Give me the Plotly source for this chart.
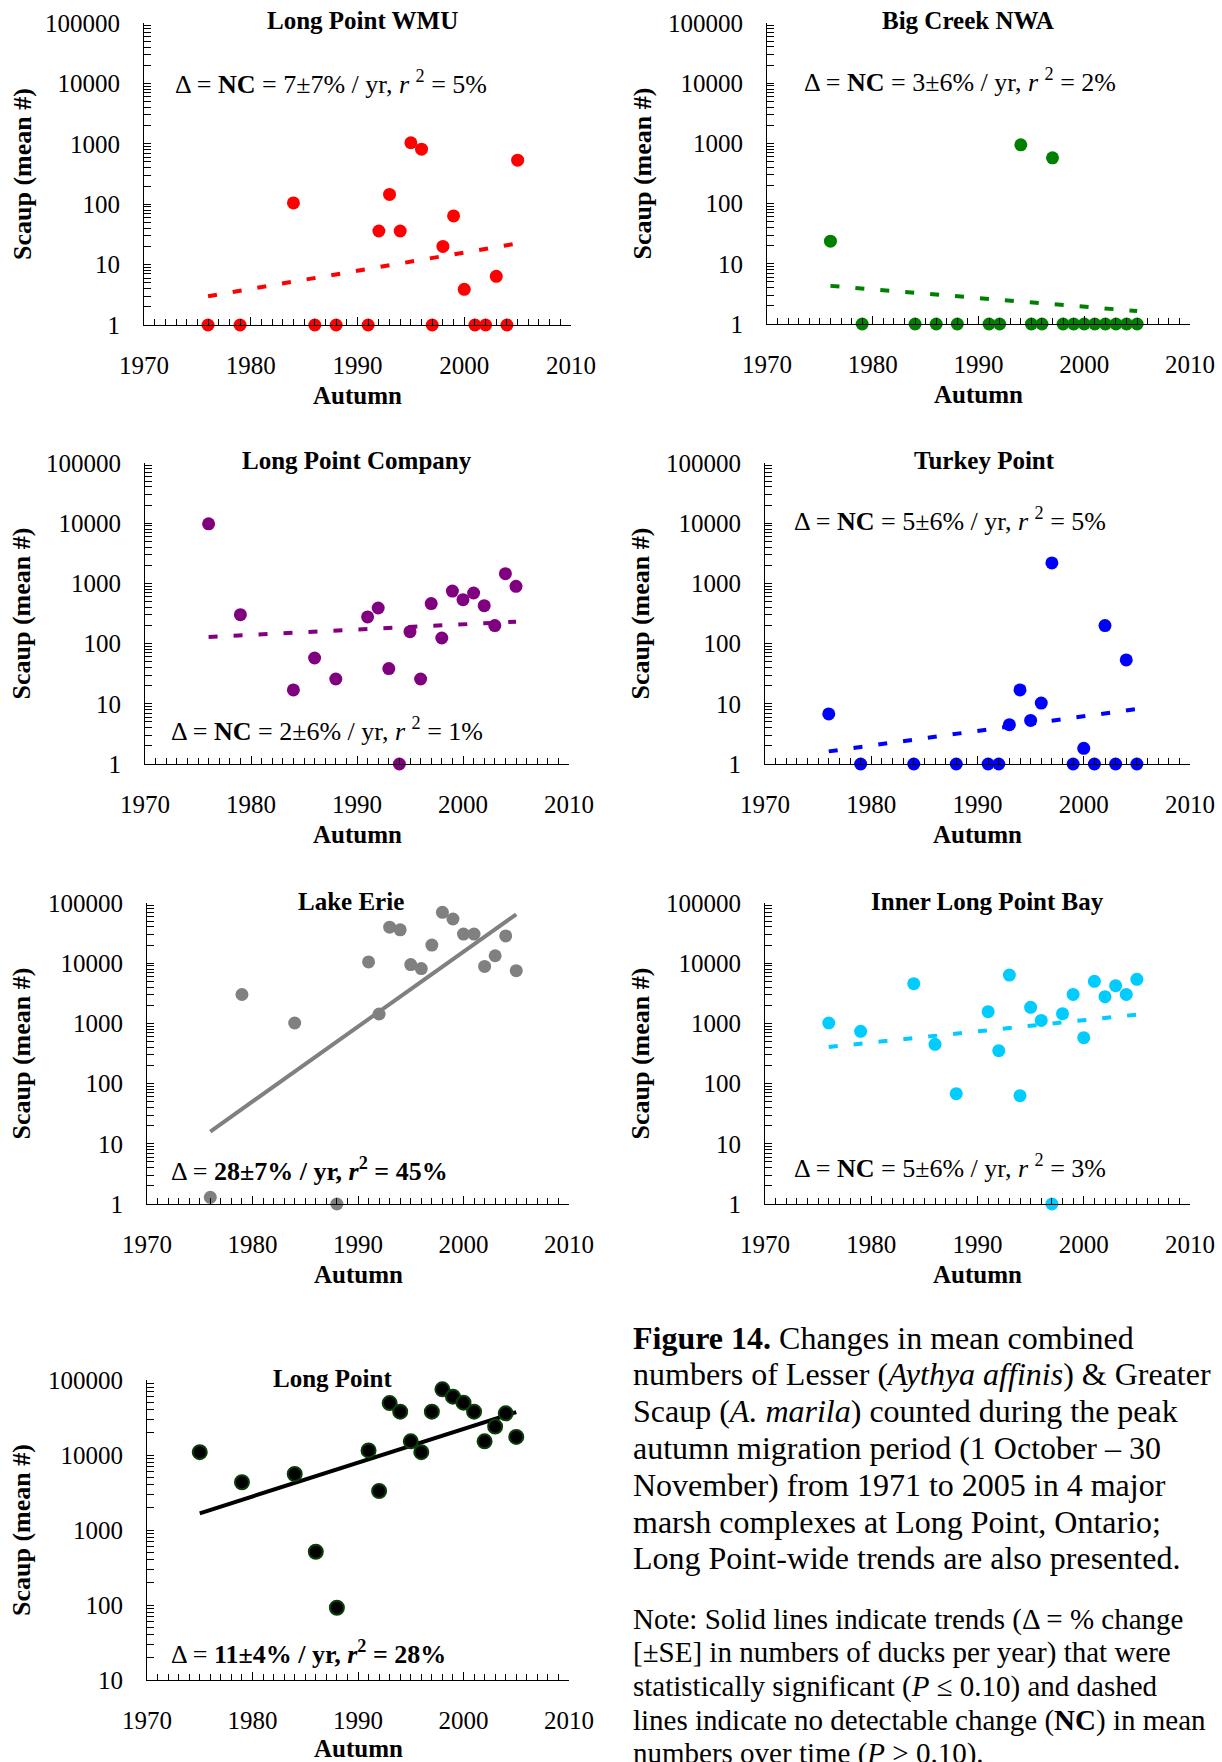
import plotly.graph_objects as go

# ---------------- data ----------------
panel_titles = ["Long Point WMU", "Big Creek NWA", "Long Point Company", "Turkey Point",
                "Lake Erie", "Inner Long Point Bay", "Long Point"]

wmu_years = [1976, 1979, 1984, 1986, 1988, 1991, 1992, 1993, 1994, 1995, 1996, 1997, 1998, 1999, 2000, 2001, 2002, 2003, 2004, 2005]
wmu_values = [1, 1, 105, 1, 1, 1, 36, 145, 36, 1040, 815, 1, 20, 64, 3.9, 1, 1, 6.4, 1, 535]

bigcreek_years = [1976, 1979, 1984, 1986, 1988, 1991, 1992, 1994, 1995, 1996, 1997, 1998, 1999, 2000, 2001, 2002, 2003, 2004, 2005]
bigcreek_values = [23.8, 1, 1, 1, 1, 1, 1, 946, 1, 1, 575, 1, 1, 1, 1, 1, 1, 1, 1]

lpco_years = [1976, 1979, 1984, 1986, 1988, 1991, 1992, 1993, 1994, 1995, 1996, 1997, 1998, 1999, 2000, 2001, 2002, 2003, 2004, 2005]
lpco_values = [9750, 302, 17, 57.6, 25.8, 277, 390, 38.5, 1, 158, 25.8, 462, 124, 745, 536, 693, 427, 199, 1450, 894]

turkey_years = [1976, 1979, 1984, 1988, 1991, 1992, 1993, 1994, 1995, 1996, 1997, 1999, 2000, 2001, 2002, 2003, 2004, 2005]
turkey_values = [6.8, 1, 1, 1, 1, 1, 4.5, 17, 5.3, 10.3, 2190, 1, 1.82, 1, 199, 1, 53.5, 1]

erie_years = [1976, 1979, 1984, 1988, 1991, 1992, 1993, 1994, 1995, 1996, 1997, 1998, 1999, 2000, 2001, 2002, 2003, 2004, 2005]
erie_values = [1.29, 3020, 1016, 1, 10500, 1432, 39600, 35800, 9500, 8130, 20000, 70000, 54200, 30500, 30500, 8850, 13300, 28400, 7520]

inner_years = [1976, 1979, 1984, 1986, 1988, 1991, 1992, 1993, 1994, 1995, 1996, 1997, 1998, 1999, 2000, 2001, 2002, 2003, 2004, 2005]
inner_values = [1016, 738, 4570, 450, 68, 1567, 352, 6350, 63, 1850, 1120, 1, 1450, 3030, 580, 5000, 2780, 4240, 3030, 5400]

lp_years = [1975, 1979, 1984, 1986, 1988, 1991, 1992, 1993, 1994, 1995, 1996, 1997, 1998, 1999, 2000, 2001, 2002, 2003, 2004, 2005]
lp_values = [10900, 4330, 5580, 513, 92, 11500, 3310, 49300, 37800, 15200, 10900, 37800, 75100, 60000, 49900, 37800, 15200, 23900, 35900, 17400]

# fitted trend (start year, end year) and (start value, end value)
trend_years = [[1976, 2005], [1976, 2005], [1976, 2005], [1976, 2005], [1976, 2005], [1976, 2005], [1975, 2005]]
trend_values = [[3.0, 22.4], [4.3, 1.64], [129, 231], [1.62, 8.2], [16, 65000], [405, 1400], [1670, 37400]]
trend_significant = [False, False, False, False, True, False, True]

rate_pct = [7, 3, 2, 5, 28, 5, 11]
rate_se = [7, 6, 6, 6, 7, 6, 4]
r2_pct = [5, 2, 1, 5, 45, 3, 28]

colors = ["#ff0000", "#008000", "#800080", "#0000ff", "#808080", "#00ccff", "#000000"]

y_tick_vals = [1, 10, 100, 1000, 10000, 100000]
y_tick_text = ["1", "10", "100", "1000", "10000", "100000"]
x_tick_vals = [1970, 1980, 1990, 2000, 2010]

caption_lines = [
    "<b>Figure 14.</b> Changes in mean combined",
    "numbers of Lesser (<i>Aythya affinis</i>) & Greater",
    "Scaup (<i>A. marila</i>) counted during the peak",
    "autumn migration period (1 October \u2013 30",
    "November) from 1971 to 2005 in 4 major",
    "marsh complexes at Long Point, Ontario;",
    "Long Point-wide trends are also presented.",
]
note_lines = [
    "Note: Solid lines indicate trends (\u0394 = % change",
    "[\u00b1SE] in numbers of ducks per year) that were",
    "statistically significant (<i>P</i> \u2264 0.10) and dashed",
    "lines indicate no detectable change (<b>NC</b>) in mean",
    "numbers over time (<i>P</i> > 0.10).",
]

all_years = [wmu_years, bigcreek_years, lpco_years, turkey_years, erie_years, inner_years, lp_years]
all_values = [wmu_values, bigcreek_values, lpco_values, turkey_values, erie_values, inner_values, lp_values]

# ---------------- layout geometry (pixels) ----------------
W, H = 1222, 1762
# left, right, top, bottom of each plot area
boxes = [
    (144, 571, 23, 325),
    (767, 1190, 23, 324),
    (145, 569, 463, 764),
    (765, 1190, 463, 764),
    (147, 569, 903, 1204),
    (765, 1190, 903, 1204),
    (147, 569, 1380, 1680),
]
y_ranges = [[0, 5]] * 6 + [[1, 5]]
title_x = [362, 968, 357, 984, 351, 987, 332]
stat_pos = [(173, 82), (802, 80), (169, 729), (792, 519), (169, 1169), (792, 1166), (169, 1652)]
ytitle_x = [23, 642, 21, 640, 21, 640, 21]
xtitle_offset = [70, 70, 70, 70, 70, 70, 68]

FONT = "Liberation Serif, Times New Roman, serif"
TICK_SIZE = 25
TITLE_SIZE = 25
TEXT_SIZE = 26
CAP_SIZE = 32
NOTE_SIZE = 29


def px(x):
    return x / W


def py(y):
    return 1 - y / H


fig = go.Figure()
annotations = []
layout_axes = {}

for i in range(7):
    l, r, t, b = boxes[i]
    xa = "x" if i == 0 else f"x{i+1}"
    ya = "y" if i == 0 else f"y{i+1}"
    col = colors[i]

    # trend line
    fig.add_trace(go.Scatter(
        x=trend_years[i], y=trend_values[i], mode="lines",
        line=dict(color=col, width=4, dash="solid" if trend_significant[i] else "9px,16px"),
        xaxis=xa, yaxis=ya, showlegend=False, hoverinfo="skip"))

    # data points
    if i == 6:
        marker = dict(color="#000000", size=14, line=dict(color="#0b3d0b", width=2))
    else:
        marker = dict(color=col, size=13, line=dict(width=0))
    fig.add_trace(go.Scatter(
        x=all_years[i], y=all_values[i], mode="markers", marker=marker,
        xaxis=xa, yaxis=ya, showlegend=False, cliponaxis=False))

    xkey = "xaxis" if i == 0 else f"xaxis{i+1}"
    ykey = "yaxis" if i == 0 else f"yaxis{i+1}"
    layout_axes[xkey] = dict(
        domain=[px(l), px(r)], anchor=ya, range=[1970, 2010],
        tickmode="array", tickvals=x_tick_vals, ticktext=[str(v) for v in x_tick_vals],
        ticks="inside", ticklen=8, tickcolor="black", tickwidth=1,
        minor=dict(ticks="inside", ticklen=6, dtick=1, tick0=1970, tickcolor="black", tickwidth=1, showgrid=False),
        showline=True, linecolor="black", linewidth=1, showgrid=False, zeroline=False,
        automargin=False,
        ticklabelstandoff=18, tickfont=dict(family=FONT, size=TICK_SIZE, color="black"))
    layout_axes[ykey] = dict(
        domain=[py(b), py(t)], anchor=xa, type="log", range=y_ranges[i],
        tickmode="array", tickvals=y_tick_vals, ticktext=y_tick_text,
        ticks="inside", ticklen=7, tickcolor="black", tickwidth=1,
        minor=dict(ticks="inside", ticklen=7, dtick="D1", tickcolor="black", tickwidth=1, showgrid=False),
        showline=True, linecolor="black", linewidth=1, showgrid=False, zeroline=False,
        automargin=False,
        ticklabelstandoff=18, tickfont=dict(family=FONT, size=TICK_SIZE, color="black"))

    # panel title
    annotations.append(dict(
        x=px(title_x[i]), y=py(t - 2), xref="paper", yref="paper", showarrow=False,
        text=f"<b>{panel_titles[i]}</b>", xanchor="center", yanchor="middle",
        font=dict(family=FONT, size=TITLE_SIZE, color="black")))

    # stat text
    if trend_significant[i]:
        stat = f"\u0394 = <b>{rate_pct[i]}\u00b1{rate_se[i]}% / yr, <i>r</i><sup>2</sup> = {r2_pct[i]}%</b>"
    else:
        stat = f"\u0394 = <b>NC</b> = {rate_pct[i]}\u00b1{rate_se[i]}% / yr, <i>r</i> <sup>2</sup> = {r2_pct[i]}%"
    sx, sy = stat_pos[i]
    annotations.append(dict(
        x=px(sx), y=py(sy), xref="paper", yref="paper", showarrow=False, text=stat,
        xanchor="left", yanchor="middle", font=dict(family=FONT, size=TEXT_SIZE, color="black")))

    # axis titles
    annotations.append(dict(
        x=px(ytitle_x[i]), y=py((t + b) / 2), xref="paper", yref="paper", showarrow=False,
        text="<b>Scaup (mean #)</b>", textangle=-90, xanchor="center", yanchor="middle",
        font=dict(family=FONT, size=TEXT_SIZE, color="black")))
    annotations.append(dict(
        x=px((l + r) / 2), y=py(b + xtitle_offset[i]), xref="paper", yref="paper", showarrow=False,
        text="<b>Autumn</b>", xanchor="center", yanchor="middle",
        font=dict(family=FONT, size=TITLE_SIZE, color="black")))

# caption text
cap_y = [1338, 1374, 1411, 1448, 1485, 1522, 1558]
note_y = [1619, 1652, 1686, 1720, 1753]
for txt, yy in zip(caption_lines, cap_y):
    annotations.append(dict(x=px(631), y=py(yy), xref="paper", yref="paper", showarrow=False,
                            text=txt, xanchor="left", yanchor="middle",
                            font=dict(family=FONT, size=CAP_SIZE, color="black")))
for txt, yy in zip(note_lines, note_y):
    annotations.append(dict(x=px(631), y=py(yy), xref="paper", yref="paper", showarrow=False,
                            text=txt, xanchor="left", yanchor="middle",
                            font=dict(family=FONT, size=NOTE_SIZE, color="black")))

fig.update_layout(
    width=W, height=H, margin=dict(l=0, r=0, t=0, b=0, autoexpand=False),
    paper_bgcolor="white", plot_bgcolor="white",
    annotations=annotations, showlegend=False,
    **layout_axes)

fig.write_html("out.html")
